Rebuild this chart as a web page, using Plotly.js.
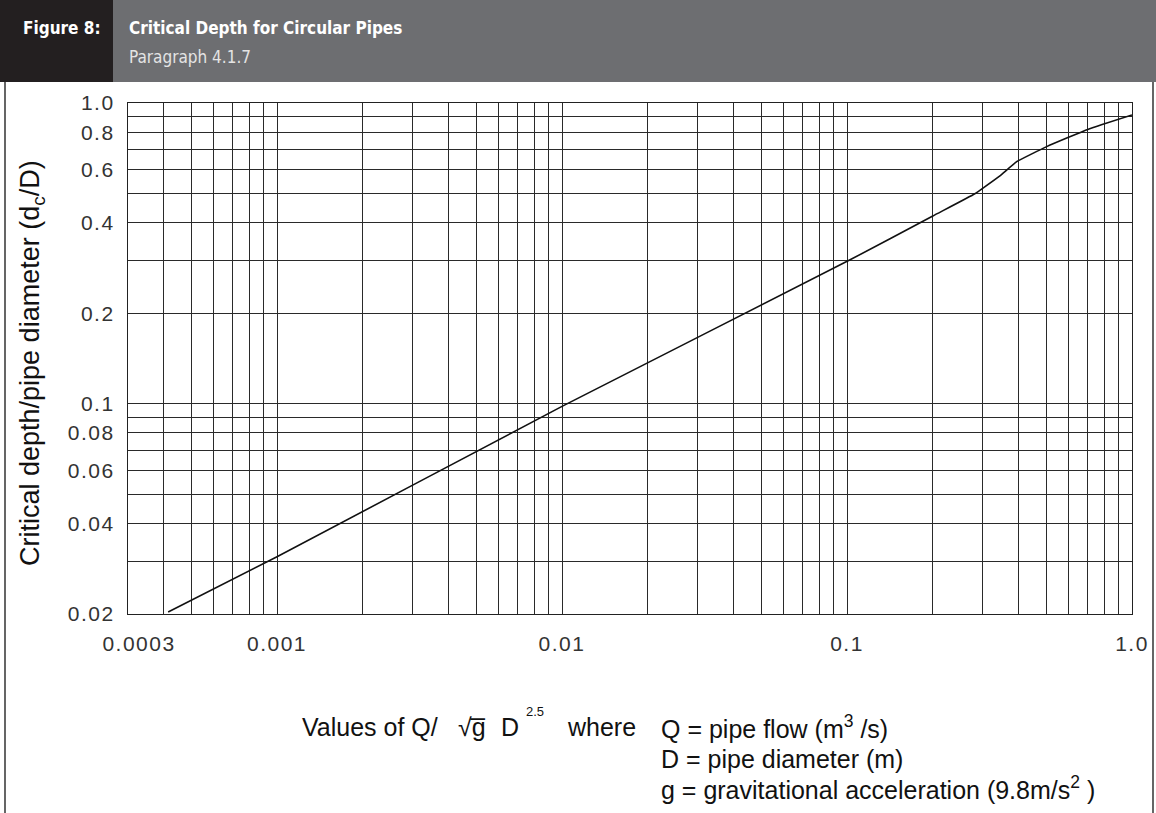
<!DOCTYPE html>
<html>
<head>
<meta charset="utf-8">
<script src="https://cdn.plot.ly/plotly-3.0.1.min.js"></script>
<style>
html,body{margin:0;padding:0;background:#fff;}
#chart{width:1156px;height:813px;}
#chart .xtick text, #chart .ytick text{letter-spacing:1.5px;}
</style>
</head>
<body>
<div id="chart"></div>
<script>
// ---- data ----
const curveX = [0.000415, 0.001, 0.01, 0.1025, 0.2, 0.281, 0.3, 0.344, 0.394, 0.502, 0.703, 1.0];
const curveY = [0.0203, 0.031, 0.098, 0.301, 0.421, 0.499, 0.521, 0.572, 0.638, 0.716, 0.818, 0.912];

const xGridVals = [0.0003,0.0004,0.0005,0.0006,0.0007,0.0008,0.0009,
                   0.001,0.002,0.003,0.004,0.005,0.006,0.007,0.008,0.009,
                   0.01,0.02,0.03,0.04,0.05,0.06,0.07,0.08,0.09,
                   0.1,0.2,0.3,0.4,0.5,0.6,0.7,0.8,0.9,1.0];
const xLabelVals = [0.0003, 0.001, 0.01, 0.1, 1.0];
const xLabelText = ["\u00a0\u00a0\u00a00.0003", "0.001", "0.01", "0.1", "1.0"];

const yGridVals = [0.02,0.03,0.04,0.05,0.06,0.07,0.08,0.09,
                   0.1,0.2,0.3,0.4,0.5,0.6,0.7,0.8,0.9,1.0];
const yLabelVals = [0.02, 0.04, 0.06, 0.08, 0.1, 0.2, 0.4, 0.6, 0.8, 1.0];
const yLabelText = ["0.02", "0.04", "0.06", "0.08", "0.1", "0.2", "0.4", "0.6", "0.8", "1.0"];

const figureLabel = "Figure 8:";
const figureTitle = "Critical Depth for Circular Pipes";
const figureSub = "Paragraph 4.1.7";
const yTitle = "Critical depth/pipe diameter (d<sub>c</sub>/D)";
const xTitleParts = ["Values of Q/", "\u221Ag\u0305", "D", "2.5", "where"];
const xTitleDefs = ["Q = pipe flow (m<sup>3</sup> /s)", "D = pipe diameter (m)", "g = gravitational acceleration (9.8m/s<sup>2</sup> )"];

// ---- layout helpers ----
const W = 1156, H = 813, L = 128, R = 1132, T = 103, B = 614;
const px = x => (x - L) / (R - L);
const py = y => (B - y) / (B - T);

function labelsFor(vals, lv, lt) {
  return vals.map(v => {
    const i = lv.findIndex(u => Math.abs(u - v) < v * 1e-6);
    return i >= 0 ? lt[i] : "";
  });
}

const FONT = "'Liberation Sans', Arial, Helvetica, sans-serif";
const NARROW = "'Liberation Sans Narrow', 'DejaVu Sans Condensed', 'Liberation Sans', Arial, sans-serif";

const trace = {
  x: curveX, y: curveY, type: 'scatter', mode: 'lines',
  line: {color: '#111', width: 1.6, shape: 'spline', smoothing: 0.4},
  hoverinfo: 'x+y'
};

function ann(x, y, text, size, extra) {
  return Object.assign({xref: 'paper', yref: 'paper', x: px(x), y: py(y), xanchor: 'left', yanchor: 'middle',
    showarrow: false, text: text, font: {family: FONT, size: size, color: '#111'}}, extra || {});
}

const layout = {
  width: W, height: H,
  margin: {l: L, r: W - R, t: T, b: H - B, pad: 0},
  paper_bgcolor: '#fff', plot_bgcolor: '#fff',
  showlegend: false,
  font: {family: FONT, color: '#222'},
  xaxis: {
    type: 'log', range: [Math.log10(0.0003), 0],
    tickmode: 'array', tickvals: xGridVals,
    ticktext: labelsFor(xGridVals, xLabelVals, xLabelText),
    showgrid: true, gridcolor: '#2a2a2a', gridwidth: 1,
    showline: true, linecolor: '#222', linewidth: 1.2, mirror: true,
    ticks: '', zeroline: false,
    tickfont: {size: 21, color: '#333', family: FONT},
    ticklabelstandoff: 11
  },
  yaxis: {
    type: 'log', range: [Math.log10(0.02), 0],
    tickmode: 'array', tickvals: yGridVals,
    ticktext: labelsFor(yGridVals, yLabelVals, yLabelText),
    showgrid: true, gridcolor: '#2a2a2a', gridwidth: 1,
    showline: true, linecolor: '#222', linewidth: 1.2, mirror: true,
    ticks: '', zeroline: false,
    tickfont: {size: 21, color: '#333', family: FONT},
    ticklabelstandoff: 8
  },
  shapes: [
    {type: 'rect', xref: 'paper', yref: 'paper', x0: px(0), x1: px(113), y0: py(82), y1: py(0), fillcolor: '#231f20', line: {width: 0}, layer: 'below'},
    {type: 'rect', xref: 'paper', yref: 'paper', x0: px(113), x1: px(1156), y0: py(82), y1: py(0), fillcolor: '#6d6e71', line: {width: 0}, layer: 'below'},
    {type: 'line', xref: 'paper', yref: 'paper', x0: px(5), x1: px(5), y0: py(82), y1: py(813), line: {color: '#555', width: 1.8}},
    {type: 'line', xref: 'paper', yref: 'paper', x0: px(1153), x1: px(1153), y0: py(82), y1: py(813), line: {color: '#555', width: 1.8}}
  ],
  annotations: [
    ann(21, 28, '<b>' + figureLabel + '</b>', 17, {font: {family: NARROW, size: 17, color: '#fff'}}),
    ann(127, 28, '<b>' + figureTitle + '</b>', 17, {font: {family: NARROW, size: 17, color: '#fff'}}),
    ann(127, 57, figureSub, 17, {font: {family: NARROW, size: 17, color: '#e4e4e4'}}),
    ann(32, 363, yTitle, 27, {xanchor: 'center', textangle: -90}),
    ann(300, 727, xTitleParts[0], 25),
    ann(456, 727, xTitleParts[1], 25),
    ann(499, 727, xTitleParts[2], 25),
    ann(524, 712, xTitleParts[3], 13),
    ann(565, 727, xTitleParts[4], 25),
    ann(659, 727, xTitleDefs[0], 25),
    ann(659, 759, xTitleDefs[1], 25),
    ann(659, 788, xTitleDefs[2], 25)
  ]
};

Plotly.newPlot('chart', [trace], layout, {displayModeBar: false, staticPlot: true});
</script>
</body>
</html>
